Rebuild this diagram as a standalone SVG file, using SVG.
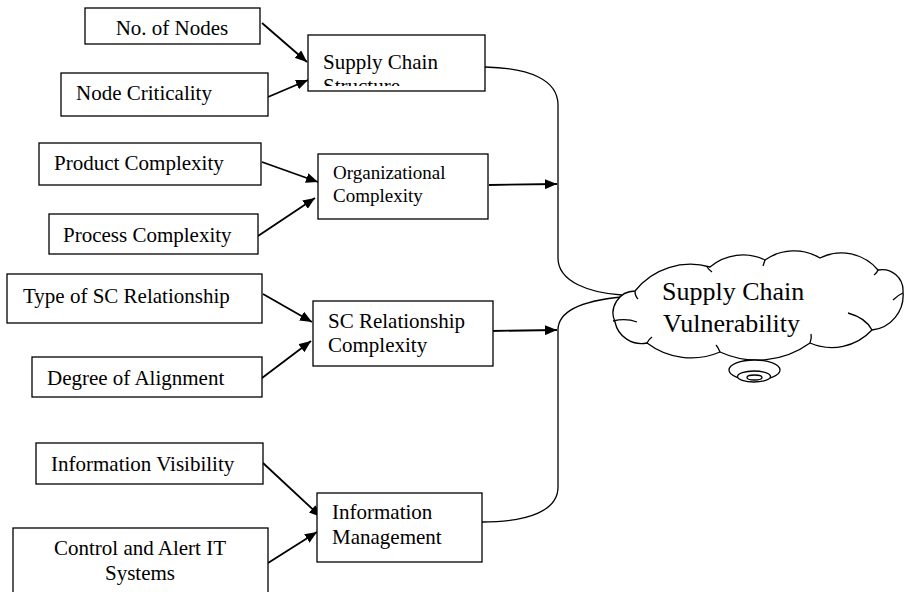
<svg xmlns="http://www.w3.org/2000/svg" width="915" height="592" viewBox="0 0 915 592">
<style>
  .box { fill: #fff; stroke: #000; stroke-width: 1.3; }
  .t { font-family: "Liberation Serif", "Times New Roman", serif; font-size: 21px; fill: #000; }
  .ts { font-family: "Liberation Serif", "Times New Roman", serif; font-size: 19px; fill: #000; }
  .tc { font-family: "Liberation Serif", "Times New Roman", serif; font-size: 26px; fill: #000; }
  .c { fill: none; stroke: #000; stroke-width: 1.8; }
  .bus { fill: none; stroke: #000; stroke-width: 1.3; }
  .cl { fill: #fff; stroke: #000; stroke-width: 1.3; }
</style>
<defs>
  <marker id="ah" markerUnits="userSpaceOnUse" markerWidth="13" markerHeight="10" refX="12" refY="5" orient="auto">
    <path d="M0,0 L12,5 L0,10 z" fill="#000"/>
  </marker>
  <clipPath id="clipScs"><rect x="308" y="35" width="177" height="51"/></clipPath>
</defs>
<rect width="915" height="592" fill="#fff"/>

<g id="connectors">
  <path class="c" d="M262,23 L307,62" marker-end="url(#ah)"/>
  <path class="c" d="M268,97 L308,80" marker-end="url(#ah)"/>
  <path class="c" d="M262,162 L318,182" marker-end="url(#ah)"/>
  <path class="c" d="M258,236 L315,198" marker-end="url(#ah)"/>
  <path class="c" d="M489,185 L557,184" marker-end="url(#ah)"/>
  <path class="c" d="M263,294 L312,322" marker-end="url(#ah)"/>
  <path class="c" d="M262,378 L311,341" marker-end="url(#ah)"/>
  <path class="c" d="M491,331 L557,330" marker-end="url(#ah)"/>
  <path class="c" d="M263,463 L321,517" marker-end="url(#ah)"/>
  <path class="c" d="M268,563 L317,532" marker-end="url(#ah)"/>
  <path class="bus" d="M485,67 C530,68 558,80 558,105 L558,258 C558,282 590,293 622,295"/>
  <path class="bus" d="M622,297 C590,300 558,308 558,330 L558,487 C558,510 530,522 482,522"/>
</g>

<g id="n-nodes"><rect class="box" x="85" y="8" width="175" height="36"/><text class="t" x="172" y="35" text-anchor="middle">No. of Nodes</text></g>
<g id="n-crit"><rect class="box" x="61" y="73" width="207" height="43"/><text class="t" x="76" y="100">Node Criticality</text></g>
<g id="n-scs"><rect class="box" x="308" y="35" width="177" height="56"/><g clip-path="url(#clipScs)"><text class="t" x="323" y="69">Supply Chain</text><text class="t" x="323" y="93">Structure</text></g></g>

<g id="n-prod"><rect class="box" x="39" y="143" width="222" height="42"/><text class="t" x="54" y="170">Product Complexity</text></g>
<g id="n-proc"><rect class="box" x="49" y="214" width="209" height="40"/><text class="t" x="63" y="242">Process Complexity</text></g>
<g id="n-org"><rect class="box" x="318" y="154" width="170" height="65"/><text class="ts" x="333" y="179">Organizational</text><text class="ts" x="333" y="202">Complexity</text></g>

<g id="n-type"><rect class="box" x="7" y="274" width="255" height="49"/><text class="t" x="23" y="303">Type of SC Relationship</text></g>
<g id="n-deg"><rect class="box" x="32" y="357" width="230" height="40"/><text class="t" x="47" y="385">Degree of Alignment</text></g>
<g id="n-scr"><rect class="box" x="313" y="301" width="180" height="65"/><text class="t" x="328" y="328">SC Relationship</text><text class="t" x="328" y="352">Complexity</text></g>

<g id="n-vis"><rect class="box" x="36" y="443" width="227" height="41"/><text class="t" x="51" y="471">Information Visibility</text></g>
<g id="n-ctrl"><rect class="box" x="13" y="528" width="255" height="80"/><text class="t" x="140" y="555" text-anchor="middle">Control and Alert IT</text><text class="t" x="140" y="580" text-anchor="middle">Systems</text></g>
<g id="n-im"><rect class="box" x="317" y="493" width="165" height="69"/><text class="t" x="332" y="519">Information</text><text class="t" x="332" y="544">Management</text></g>

<g id="n-scv">
  <path class="cl" d="M615,322 A22,22 0 0 1 635,291 A71,71 0 0 1 710,267 A51,51 0 0 1 765,260 A51,51 0 0 1 820,258 A48,48 0 0 1 878,270 A21,21 0 0 1 903,292 A35,35 0 0 1 872,330 A55,55 0 0 1 810,343 A90,90 0 0 1 720,352 A73,73 0 0 1 647,343 A27,27 0 0 1 615,322 Z"/>
  <path class="bus" d="M613,321 Q626,318 637,322"/>
  <path class="bus" d="M635,291 Q635,296 638,299"/>
  <path class="bus" d="M707,267 Q709,270 712,272"/>
  <path class="bus" d="M765,260 Q764,263 763,266"/>
  <path class="bus" d="M878,270 Q877,273 874,275"/>
  <path class="bus" d="M893,300 Q898,295 903,293"/>
  <path class="bus" d="M848,313 Q866,318 872,330"/>
  <path class="bus" d="M810,343 Q812,338 811,334"/>
  <path class="bus" d="M720,352 Q718,347 716,345"/>
  <path class="bus" d="M647,343 Q649,339 652,337"/>
  <ellipse class="cl" cx="754.5" cy="370" rx="25.5" ry="10"/>
  <ellipse class="cl" cx="754" cy="376.5" rx="16.5" ry="5.5"/>
  <ellipse class="cl" cx="754.5" cy="377.5" rx="7.5" ry="2.5"/>
  <text class="tc" x="662" y="300">Supply Chain</text>
  <text class="tc" x="663" y="332">Vulnerability</text>
</g>
</svg>
